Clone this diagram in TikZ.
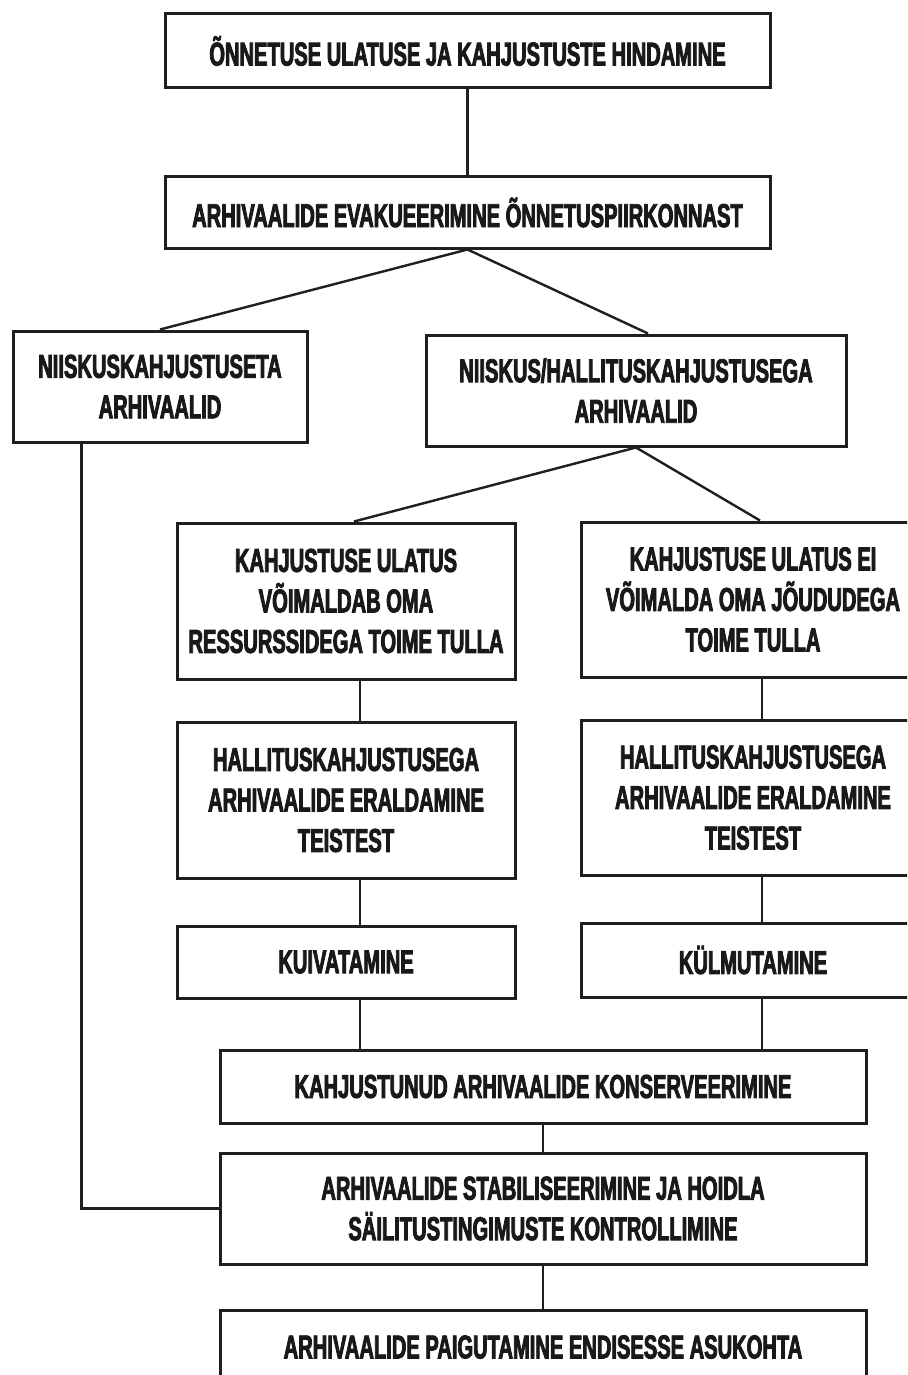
\documentclass[tikz,border=0pt]{standalone}
\usepackage{fontspec}
\newfontfamily\cond{Liberation Sans}[FakeStretch=0.61,FakeBold=2.5]
\tikzset{
  box/.style={draw=black!88, line width=3pt, inner sep=0pt, align=center,
    font=\cond\bfseries\fontsize{33}{40.5}\selectfont, text=black!90},
  link/.style={draw=black!88, line width=2.4pt}
}
\begin{document}
\begin{tikzpicture}[x=1pt,y=-1pt]
\clip (0,0) rectangle (907,1375);
\fill[white] (0,0) rectangle (907,1375);
% boxes
\node[box, minimum width=605pt, minimum height=74pt] (hind) at (467.5,51) {ÕNNETUSE ULATUSE JA KAHJUSTUSTE HINDAMINE};
\node[box, minimum width=605pt, minimum height=71pt] (evak) at (467.5,212.5) {ARHIVAALIDE EVAKUEERIMINE ÕNNETUSPIIRKONNAST};
\node[box, minimum width=294pt, minimum height=111pt] (kuiv0) at (160,386.5) {NIISKUSKAHJUSTUSETA\\ARHIVAALID};
\node[box, minimum width=420pt, minimum height=111pt] (niisk) at (636,390.5) {NIISKUS/HALLITUSKAHJUSTUSEGA\\ARHIVAALID};
\node[box, minimum width=338pt, minimum height=156pt] (oma) at (346,601) {KAHJUSTUSE ULATUS\\VÕIMALDAB OMA\\RESSURSSIDEGA TOIME TULLA};
\node[box, minimum width=344pt, minimum height=155pt] (eioma) at (753,599.5) {KAHJUSTUSE ULATUS EI\\VÕIMALDA OMA JÕUDUDEGA\\TOIME TULLA};
\node[box, minimum width=338pt, minimum height=156pt] (eraldL) at (346,800) {HALLITUSKAHJUSTUSEGA\\ARHIVAALIDE ERALDAMINE\\TEISTEST};
\node[box, minimum width=344pt, minimum height=155pt] (eraldR) at (753,797.5) {HALLITUSKAHJUSTUSEGA\\ARHIVAALIDE ERALDAMINE\\TEISTEST};
\node[box, minimum width=338pt, minimum height=72pt] (kuiv) at (346,962) {KUIVATAMINE};
\node[box, minimum width=344pt, minimum height=74pt] (kylm) at (753,960) {KÜLMUTAMINE};
\node[box, minimum width=646pt, minimum height=73pt] (kons) at (543,1086.5) {KAHJUSTUNUD ARHIVAALIDE KONSERVEERIMINE};
\node[box, minimum width=646pt, minimum height=111pt] (stab) at (543,1208.5) {ARHIVAALIDE STABILISEERIMINE JA HOIDLA\\SÄILITUSTINGIMUSTE KONTROLLIMINE};
\node[box, minimum width=646pt, minimum height=74pt] (paig) at (543,1347) {ARHIVAALIDE PAIGUTAMINE ENDISESSE ASUKOHTA};
% connectors
\draw[link] (hind.south) -- (evak.north);
\draw[link] (evak.south) -- (kuiv0.north);
\draw[link] (evak.south) -- ([xshift=12pt]niisk.north);
\draw[link] (niisk.south) -- ([xshift=8pt]oma.north);
\draw[link] (niisk.south) -- ([xshift=7pt]eioma.north);
\draw[link] ([xshift=14pt]oma.south) -- ([xshift=14pt]eraldL.north);
\draw[link] ([xshift=14pt]eraldL.south) -- ([xshift=14pt]kuiv.north);
\draw[link] ([xshift=14pt]kuiv.south) -- ([xshift=14pt]kuiv.south |- kons.north);
\draw[link] ([xshift=9pt]eioma.south) -- ([xshift=9pt]eraldR.north);
\draw[link] ([xshift=9pt]eraldR.south) -- ([xshift=9pt]kylm.north);
\draw[link] ([xshift=9pt]kylm.south) -- ([xshift=9pt]kylm.south |- kons.north);
\draw[link] (kons.south) -- (stab.north);
\draw[link] (stab.south) -- (paig.north);
\draw[link] ([xshift=70pt]kuiv0.south west) |- (stab.west);
\end{tikzpicture}
\end{document}
